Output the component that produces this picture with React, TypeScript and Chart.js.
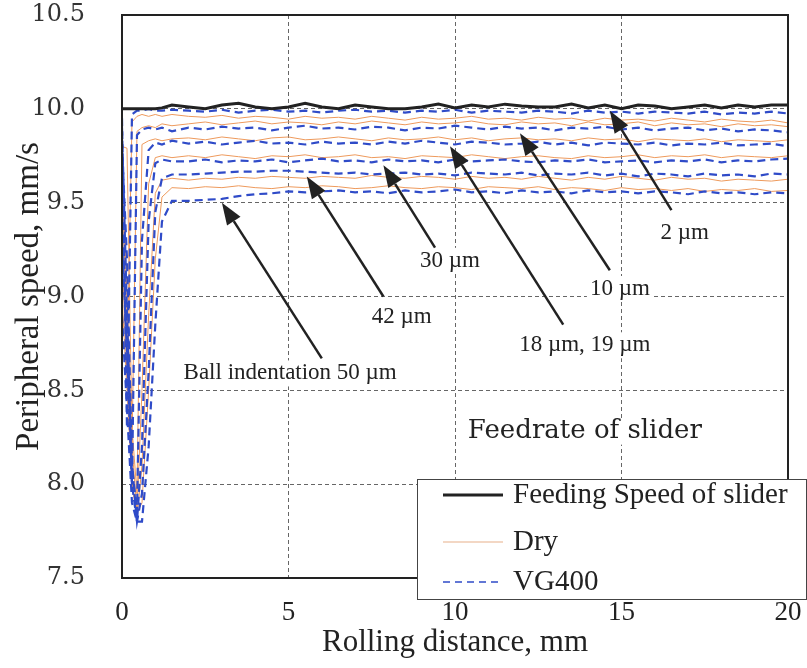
import React, { useEffect, useRef } from "react";
import { Chart, registerables } from "chart.js";

Chart.register(...registerables);

// Rolling distance samples (mm)
const DISTANCE = [
  0, 0.15, 0.3, 0.45, 0.6, 0.8, 1.0, 1.2, 1.5,
  2, 2.5, 3, 3.5, 4, 4.5, 5, 5.5, 6, 6.5,
  7, 7.5, 8, 8.5, 9, 9.5, 10, 10.5, 11, 11.5,
  12, 12.5, 13, 13.5, 14, 14.5, 15, 15.5, 16, 16.5,
  17, 17.5, 18, 18.5, 19, 19.5, 20,
];

const X_TICKS = [0, 5, 10, 15, 20];
const Y_TICKS = [7.5, 8.0, 8.5, 9.0, 9.5, 10.0, 10.5];

// Feeding speed of the slider (mm/s)
const FEED = [
  10.0, 10.0, 10.0, 10.0, 10.0, 10.0, 10.0, 10.005, 10.02,
  10.01, 10.0, 10.02, 10.03, 10.01, 10.0, 10.01, 10.03, 10.01, 10.0,
  10.02, 10.01, 10.0, 10.0, 10.01, 10.025, 10.005, 10.02, 10.01, 10.025,
  10.015, 10.01, 10.01, 10.025, 10.005, 10.02, 10.0, 10.02, 10.015, 10.0,
  10.01, 10.02, 10.005, 10.02, 10.01, 10.02, 10.02,
];

// Peripheral speed, VG400 lubricated (mm/s)
const VG_2UM = [
  9.95, 8.3, 9.97, 9.99, 9.99, 10.0, 9.99, 9.99, 9.995,
  9.99, 9.985, 9.995, 9.98, 9.99, 9.995, 9.985, 9.99, 9.98, 9.99,
  9.995, 9.985, 9.99, 9.98, 9.99, 9.985, 9.995, 9.98, 9.99, 9.985,
  9.98, 9.99, 9.985, 9.975, 9.99, 9.98, 9.985, 9.975, 9.985, 9.98,
  9.975, 9.985, 9.97, 9.98, 9.975, 9.985, 9.975,
];
const VG_10UM = [
  9.9, 8.9, 8.0, 9.86, 9.89, 9.9, 9.89, 9.9, 9.88,
  9.9, 9.89, 9.905, 9.895, 9.9, 9.885, 9.9, 9.91, 9.895, 9.9,
  9.89, 9.905, 9.9, 9.885, 9.9, 9.895, 9.91, 9.9, 9.89, 9.905,
  9.895, 9.9, 9.885, 9.9, 9.895, 9.905, 9.89, 9.9, 9.885, 9.895,
  9.9, 9.885, 9.895, 9.88, 9.89, 9.885, 9.875,
];
const VG_19UM = [
  9.8, 9.2, 8.1, 7.85, 9.3, 9.78, 9.82, 9.81, 9.83,
  9.815, 9.825, 9.81, 9.82, 9.83, 9.815, 9.82, 9.81, 9.825, 9.815,
  9.82, 9.81, 9.825, 9.815, 9.83, 9.82, 9.81, 9.825, 9.82, 9.81,
  9.815, 9.825, 9.81, 9.82, 9.805, 9.82, 9.815, 9.81, 9.82, 9.805,
  9.815, 9.81, 9.82, 9.805, 9.81, 9.815, 9.8,
];
const VG_30UM = [
  9.3, 8.7, 8.0, 7.8, 8.2, 9.4, 9.71, 9.73, 9.72,
  9.72, 9.73, 9.715, 9.725, 9.72, 9.73, 9.715, 9.725, 9.735, 9.72,
  9.725, 9.715, 9.73, 9.72, 9.725, 9.715, 9.73, 9.72, 9.725, 9.73,
  9.72, 9.715, 9.725, 9.72, 9.73, 9.715, 9.72, 9.725, 9.715, 9.725,
  9.72, 9.73, 9.715, 9.725, 9.72, 9.73, 9.735,
];
const VG_42UM = [
  9.4, 8.8, 8.1, 7.8, 7.95, 8.6, 9.45, 9.63, 9.65,
  9.65, 9.655, 9.66, 9.665, 9.665, 9.67, 9.67, 9.665, 9.66, 9.655,
  9.66, 9.65, 9.655, 9.66, 9.65, 9.655, 9.645, 9.66, 9.655, 9.65,
  9.66, 9.645, 9.655, 9.65, 9.66, 9.645, 9.655, 9.64, 9.655, 9.65,
  9.64, 9.655, 9.645, 9.65, 9.64, 9.655, 9.65,
];
const VG_50UM = [
  8.9, 8.4, 7.9, 7.8, 7.8, 8.2, 8.85, 9.4, 9.51,
  9.51, 9.515, 9.52, 9.535, 9.545, 9.55, 9.56, 9.555, 9.56, 9.565,
  9.555, 9.56, 9.55, 9.565, 9.555, 9.56, 9.57, 9.555, 9.56, 9.55,
  9.565, 9.555, 9.56, 9.55, 9.565, 9.555, 9.56, 9.55, 9.56, 9.555,
  9.545, 9.56, 9.55, 9.555, 9.545, 9.555, 9.55,
];

// Peripheral speed, dry contact (mm/s)
const DRY_2UM = [
  9.85, 8.6, 9.93, 9.96, 9.97, 9.96, 9.97, 9.96, 9.97,
  9.96, 9.955, 9.965, 9.95, 9.96, 9.955, 9.945, 9.96, 9.95, 9.955,
  9.945, 9.96, 9.95, 9.94, 9.955, 9.945, 9.95, 9.96, 9.945, 9.95,
  9.94, 9.955, 9.945, 9.95, 9.935, 9.95, 9.94, 9.945, 9.935, 9.95,
  9.94, 9.93, 9.945, 9.935, 9.93, 9.94, 9.925,
];
const DRY_10UM = [
  9.8, 9.0, 8.2, 9.88, 9.9, 9.91, 9.9, 9.92, 9.91,
  9.92, 9.93, 9.915, 9.925, 9.935, 9.92, 9.93, 9.925, 9.915, 9.93,
  9.92, 9.935, 9.925, 9.915, 9.93, 9.92, 9.925, 9.935, 9.92, 9.915,
  9.93, 9.92, 9.925, 9.91, 9.93, 9.915, 9.92, 9.93, 9.91, 9.925,
  9.915, 9.92, 9.905, 9.92, 9.91, 9.915, 9.905,
];
const DRY_18UM = [
  9.8, 9.79, 8.3, 7.95, 9.81, 9.83, 9.84, 9.83, 9.84,
  9.845, 9.835, 9.85, 9.84, 9.83, 9.845, 9.85, 9.835, 9.84, 9.85,
  9.84, 9.83, 9.845, 9.835, 9.84, 9.85, 9.835, 9.845, 9.83, 9.84,
  9.845, 9.835, 9.84, 9.83, 9.845, 9.835, 9.84, 9.825, 9.84, 9.835,
  9.83, 9.84, 9.825, 9.835, 9.83, 9.825, 9.835,
];
const DRY_30UM = [
  9.5, 8.9, 8.2, 7.85, 8.5, 9.6, 9.74, 9.75, 9.74,
  9.75, 9.74, 9.755, 9.745, 9.735, 9.75, 9.745, 9.755, 9.74, 9.745,
  9.755, 9.74, 9.745, 9.735, 9.75, 9.745, 9.74, 9.755, 9.745, 9.735,
  9.745, 9.75, 9.74, 9.735, 9.75, 9.74, 9.745, 9.755, 9.74, 9.75,
  9.745, 9.755, 9.74, 9.75, 9.745, 9.74, 9.75,
];
const DRY_42UM = [
  9.2, 8.6, 8.0, 7.82, 8.1, 8.9, 9.55, 9.62, 9.63,
  9.62, 9.63, 9.625, 9.635, 9.63, 9.64, 9.635, 9.63, 9.64, 9.635,
  9.63, 9.645, 9.635, 9.63, 9.64, 9.635, 9.625, 9.64, 9.63, 9.635,
  9.625, 9.64, 9.63, 9.62, 9.635, 9.625, 9.64, 9.63, 9.62, 9.635,
  9.625, 9.63, 9.615, 9.625, 9.62, 9.615, 9.625,
];
const DRY_50UM = [
  9.0, 8.5, 8.0, 7.85, 7.9, 8.5, 9.2, 9.53, 9.58,
  9.575, 9.585, 9.58, 9.59, 9.58, 9.575, 9.585, 9.58, 9.59, 9.585,
  9.575, 9.58, 9.59, 9.58, 9.575, 9.585, 9.58, 9.57, 9.585, 9.58,
  9.575, 9.585, 9.57, 9.58, 9.575, 9.565, 9.58, 9.57, 9.575, 9.565,
  9.575, 9.56, 9.57, 9.565, 9.575, 9.56, 9.565,
];

const VG_SERIES = [VG_2UM, VG_10UM, VG_19UM, VG_30UM, VG_42UM, VG_50UM];
const DRY_SERIES = [DRY_2UM, DRY_10UM, DRY_18UM, DRY_30UM, DRY_42UM, DRY_50UM];

// Indentation call-outs: label centre, arrow tip and arrow tail in (mm, mm/s)
const CALLOUTS = [
  { text: "Ball indentation 50 µm", at: [5.05, 8.59], tip: [3.0, 9.5], tail: [6.0, 8.67] },
  { text: "42 µm", at: [8.4, 8.89], tip: [5.55, 9.64], tail: [7.85, 9.0] },
  { text: "30 µm", at: [9.85, 9.19], tip: [7.85, 9.7], tail: [9.4, 9.26] },
  { text: "18 µm, 19 µm", at: [13.9, 8.74], tip: [9.85, 9.8], tail: [13.25, 8.85] },
  { text: "10 µm", at: [14.95, 9.04], tip: [11.95, 9.87], tail: [14.65, 9.14] },
  { text: "2 µm", at: [16.9, 9.34], tip: [14.65, 9.99], tail: [16.5, 9.46] },
];
const NOTE = { text: "Feedrate of slider", at: [13.9, 8.28] };

const LEGEND_ITEMS = ["Feeding Speed of slider", "Dry", "VG400"];

const ORANGE = "#ee9a5c";
const BLUE = "#2f4bc8";
const INK = "#222";
const SERIF = "'Liberation Serif', 'Times New Roman', serif";
const WIDE_SERIF = "'DejaVu Serif', serif";

const toPoints = (ys: number[]) => DISTANCE.map((x, i) => ({ x, y: ys[i] }));

const overlay = {
  id: "overlay",
  afterDraw(chart: any) {
    const { ctx, chartArea: a, scales } = chart;
    const px = (v: number) => scales.x.getPixelForValue(v);
    const py = (v: number) => scales.y.getPixelForValue(v);
    ctx.save();

    // plot frame
    ctx.strokeStyle = INK;
    ctx.lineWidth = 2;
    ctx.setLineDash([]);
    ctx.strokeRect(a.left, a.top, a.right - a.left, a.bottom - a.top);

    // labels on white boxes
    const label = (text: string, x: number, y: number, font: string) => {
      ctx.font = font;
      const w = ctx.measureText(text).width;
      ctx.fillStyle = "#fff";
      ctx.fillRect(x - w / 2 - 3, y - 13, w + 6, 26);
      ctx.fillStyle = INK;
      ctx.textAlign = "center";
      ctx.textBaseline = "middle";
      ctx.fillText(text, x, y);
    };
    CALLOUTS.forEach((c) => label(c.text, px(c.at[0]), py(c.at[1]), `23px ${SERIF}`));
    label(NOTE.text, px(NOTE.at[0]), py(NOTE.at[1]), `26px ${WIDE_SERIF}`);

    // arrows
    CALLOUTS.forEach((c) => {
      const tx = px(c.tip[0]), ty = py(c.tip[1]);
      const sx = px(c.tail[0]), sy = py(c.tail[1]);
      const ang = Math.atan2(ty - sy, tx - sx);
      const head = 22, half = 8;
      const bx = tx - head * Math.cos(ang), by = ty - head * Math.sin(ang);
      ctx.strokeStyle = INK;
      ctx.lineWidth = 2.5;
      ctx.beginPath();
      ctx.moveTo(sx, sy);
      ctx.lineTo(bx, by);
      ctx.stroke();
      ctx.fillStyle = INK;
      ctx.beginPath();
      ctx.moveTo(tx, ty);
      ctx.lineTo(bx + half * Math.sin(ang), by - half * Math.cos(ang));
      ctx.lineTo(bx - half * Math.sin(ang), by + half * Math.cos(ang));
      ctx.closePath();
      ctx.fill();
    });

    // legend box
    const lx = 417, ly = 479, lw = chart.width - 1 - lx, lh = 120;
    ctx.fillStyle = "#fff";
    ctx.fillRect(lx, ly, lw, lh);
    ctx.strokeStyle = "#444";
    ctx.lineWidth = 1;
    ctx.strokeRect(lx + 0.5, ly + 0.5, lw, lh);
    const rows = [495, 542, 582];
    const styles = [
      { color: INK, width: 3, dash: [] as number[] },
      { color: "#e8b08a", width: 1.2, dash: [] as number[] },
      { color: BLUE, width: 1.5, dash: [7, 5] },
    ];
    ctx.font = `29px ${SERIF}`;
    ctx.textAlign = "left";
    ctx.textBaseline = "middle";
    LEGEND_ITEMS.forEach((name, i) => {
      const s = styles[i];
      ctx.strokeStyle = s.color;
      ctx.lineWidth = s.width;
      ctx.setLineDash(s.dash);
      ctx.beginPath();
      ctx.moveTo(443, rows[i]);
      ctx.lineTo(503, rows[i]);
      ctx.stroke();
      ctx.setLineDash([]);
      ctx.fillStyle = INK;
      ctx.fillText(name, 513, rows[i]);
    });
    ctx.restore();
  },
};

export default function App() {
  const ref = useRef<HTMLCanvasElement | null>(null);

  useEffect(() => {
    if (!ref.current) return;
    const datasets: any[] = [
      {
        label: "Feeding Speed of slider",
        data: toPoints(FEED),
        borderColor: INK,
        borderWidth: 3,
      },
      ...VG_SERIES.map((s) => ({
        label: "VG400",
        data: toPoints(s),
        borderColor: BLUE,
        borderWidth: 2.2,
        borderDash: [8, 5],
      })),
      ...DRY_SERIES.map((s) => ({
        label: "Dry",
        data: toPoints(s),
        borderColor: ORANGE,
        borderWidth: 1,
      })),
    ].map((d) => ({ ...d, pointRadius: 0, tension: 0, fill: false }));

    const chart = new Chart(ref.current, {
      type: "line",
      data: { datasets },
      options: {
        animation: false,
        responsive: false,
        layout: { padding: { left: 0, right: 19, top: 15, bottom: 0 } },
        plugins: { legend: { display: false }, tooltip: { enabled: false } },
        scales: {
          x: {
            type: "linear",
            min: 0,
            max: 20,
            afterBuildTicks: (s: any) => {
              s.ticks = X_TICKS.map((v) => ({ value: v }));
            },
            afterFit: (s: any) => {
              s.height = 90;
            },
            grid: { color: "#666", lineWidth: 1, drawTicks: true, tickLength: 19, tickColor: "rgba(0,0,0,0)" },
            border: { display: false, dash: [4, 3] },
            ticks: {
              padding: 0,
              color: INK,
              font: { family: SERIF, size: 27 },
            },
            title: {
              display: true,
              text: "Rolling distance, mm",
              color: INK,
              font: { family: SERIF, size: 31 },
              padding: { top: 0, bottom: 7 },
            },
          },
          y: {
            min: 7.5,
            max: 10.5,
            afterBuildTicks: (s: any) => {
              s.ticks = Y_TICKS.map((v) => ({ value: v }));
            },
            afterFit: (s: any) => {
              s.width = 122;
            },
            grid: { color: "#666", lineWidth: 1, drawTicks: true, tickLength: 37, tickColor: "rgba(0,0,0,0)" },
            border: { display: false, dash: [4, 3] },
            ticks: {
              padding: 0,
              color: "#333",
              callback: (v: any) => Number(v).toFixed(1),
              font: { family: WIDE_SERIF, size: 24, lineHeight: 1 },
            },
            title: {
              display: true,
              text: "Peripheral speed, mm/s",
              color: INK,
              font: { family: SERIF, size: 33 },
              padding: { top: 10, bottom: 0 },
            },
          },
        },
      },
      plugins: [overlay],
    });
    return () => chart.destroy();
  }, []);

  return (
    <canvas
      ref={ref}
      width={807}
      height={668}
      style={{ position: "absolute", left: 0, top: 0, display: "block", background: "#fff" }}
    />
  );
}
